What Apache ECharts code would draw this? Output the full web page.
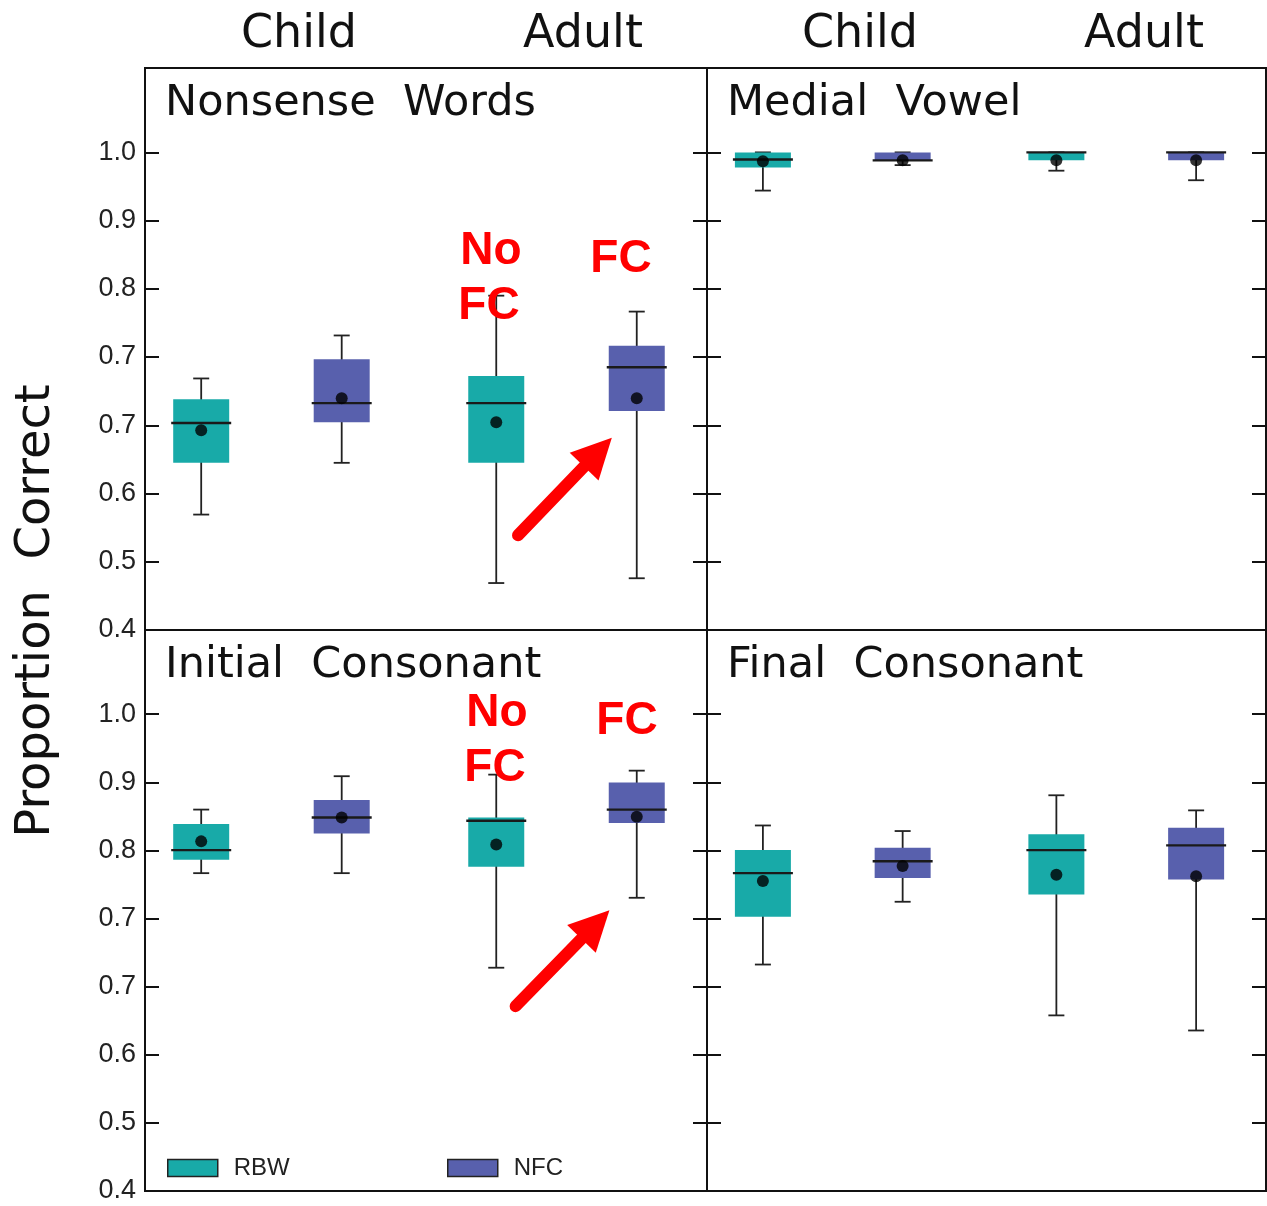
<!DOCTYPE html>
<html>
<head>
<meta charset="utf-8">
<script src="https://cdn.jsdelivr.net/npm/echarts@6/dist/echarts.min.js"></script>
<style>
html,body{margin:0;padding:0;background:#ffffff;}
#chart{width:1267px;height:1206px;}
</style>
</head>
<body>
<div id="chart"></div>
<script>
// ---------------- data ----------------
const AGE_GROUPS = ['Child', 'Adult'];
const CONDITIONS = ['RBW', 'NFC'];
const PANEL_TITLES = ['Nonsense  Words', 'Medial  Vowel', 'Initial  Consonant', 'Final  Consonant'];
const Y_TICK_VALUES = [0.4, 0.4857, 0.5714, 0.6571, 0.7429, 0.8286, 0.9143, 1.0];
const Y_TICK_LABELS = ['0.4', '0.5', '0.6', '0.7', '0.7', '0.8', '0.9', '1.0'];

// box order: Child-RBW, Child-NFC, Adult-RBW, Adult-NFC ; [min, Q1, median, Q3, max]
const NONSENSE_WORDS_BOXES = [
  [0.545, 0.610, 0.660, 0.690, 0.716],
  [0.610, 0.661, 0.685, 0.740, 0.770],
  [0.459, 0.610, 0.685, 0.719, 0.820],
  [0.465, 0.675, 0.730, 0.757, 0.800]
];
const NONSENSE_WORDS_MEANS = [0.651, 0.691, 0.661, 0.691];

const MEDIAL_VOWEL_BOXES = [
  [0.952, 0.981, 0.991, 1.000, 1.000],
  [0.984, 0.990, 0.990, 1.000, 1.000],
  [0.977, 0.990, 1.000, 1.000, 1.000],
  [0.965, 0.990, 1.000, 1.000, 1.000]
];
const MEDIAL_VOWEL_MEANS = [0.989, 0.990, 0.990, 0.990];

const INITIAL_CONSONANT_BOXES = [
  [0.800, 0.817, 0.829, 0.862, 0.880],
  [0.800, 0.850, 0.870, 0.892, 0.922],
  [0.681, 0.808, 0.866, 0.870, 0.924],
  [0.769, 0.863, 0.880, 0.914, 0.929]
];
const INITIAL_CONSONANT_MEANS = [0.840, 0.870, 0.836, 0.871];

const FINAL_CONSONANT_BOXES = [
  [0.685, 0.745, 0.800, 0.829, 0.860],
  [0.764, 0.794, 0.815, 0.832, 0.853],
  [0.621, 0.773, 0.829, 0.849, 0.898],
  [0.602, 0.792, 0.835, 0.857, 0.879]
];
const FINAL_CONSONANT_MEANS = [0.790, 0.809, 0.798, 0.796];

// ---------------- layout / style ----------------
const PANEL_BOXES = [NONSENSE_WORDS_BOXES, MEDIAL_VOWEL_BOXES, INITIAL_CONSONANT_BOXES, FINAL_CONSONANT_BOXES];
const PANEL_MEANS = [NONSENSE_WORDS_MEANS, MEDIAL_VOWEL_MEANS, INITIAL_CONSONANT_MEANS, FINAL_CONSONANT_MEANS];
const COLORS = { RBW: '#18aaa8', NFC: '#5860ad' };
const GRIDS = [
  { left: 145, top: 68, width: 562, height: 562 },
  { left: 707, top: 68, width: 559, height: 562 },
  { left: 145, top: 630, width: 562, height: 561 },
  { left: 707, top: 630, width: 559, height: 561 }
];
const TITLE_FONT = 'DejaVu Sans';
const INK = '#111111';

function xOf(g, c) { return 1 + g * 2.1 + c; }

function renderBox(params, api) {
  const x = api.value(0);
  const lo = api.coord([x, api.value(1)]);
  const q1 = api.coord([x, api.value(2)]);
  const md = api.coord([x, api.value(3)]);
  const q3 = api.coord([x, api.value(4)]);
  const hi = api.coord([x, api.value(5)]);
  const cx = lo[0], hw = 28, cw = 8;
  const st = { stroke: '#222', lineWidth: 1.8 };
  return {
    type: 'group',
    children: [
      { type: 'line', shape: { x1: cx, y1: hi[1], x2: cx, y2: lo[1] }, style: st },
      { type: 'line', shape: { x1: cx - cw, y1: hi[1], x2: cx + cw, y2: hi[1] }, style: st },
      { type: 'line', shape: { x1: cx - cw, y1: lo[1], x2: cx + cw, y2: lo[1] }, style: st },
      { type: 'rect', shape: { x: cx - hw, y: q3[1], width: 2 * hw, height: Math.max(q1[1] - q3[1], 1) },
        style: { fill: api.visual('color') } },
      { type: 'line', shape: { x1: cx - hw - 2, y1: md[1], x2: cx + hw + 2, y2: md[1] },
        style: { stroke: '#1a1a1a', lineWidth: 2.4 } }
    ]
  };
}

const grid = [], xAxis = [], yAxis = [], series = [];
GRIDS.forEach((g, p) => {
  grid.push(Object.assign({ show: true, borderColor: INK, borderWidth: 2, backgroundColor: 'transparent' }, g));
  xAxis.push({ type: 'value', gridIndex: p, min: 0.6, max: 4.6, show: false });
  ['left', 'right'].forEach((pos) => {
    yAxis.push({
      type: 'value', gridIndex: p, position: pos, min: 0.4, max: 1.106,
      axisLine: { show: false },
      splitLine: { show: false },
      axisTick: { show: true, inside: true, length: 14, customValues: Y_TICK_VALUES,
        lineStyle: { color: INK, width: 2 } },
      axisLabel: {
        show: pos === 'left' && p % 2 === 0,
        customValues: Y_TICK_VALUES,
        formatter: (v) => {
          const i = Y_TICK_VALUES.findIndex(t => Math.abs(t - v) < 1e-3);
          return i >= 0 ? Y_TICK_LABELS[i] : '';
        },
        fontFamily: 'Liberation Sans', fontSize: 27, color: '#222', margin: 9
      }
    });
  });

  CONDITIONS.forEach((cond, c) => {
    series.push({
      type: 'custom', name: cond, xAxisIndex: p, yAxisIndex: 2 * p,
      itemStyle: { color: COLORS[cond] },
      renderItem: renderBox,
      encode: { x: 0, y: [1, 2, 3, 4, 5] },
      data: AGE_GROUPS.map((_, gi) => [xOf(gi, c)].concat(PANEL_BOXES[p][gi * 2 + c])),
      z: 2, silent: true, animation: false
    });
  });

  const meanSeries = {
    type: 'scatter', name: 'mean', xAxisIndex: p, yAxisIndex: 2 * p,
    symbol: 'circle', symbolSize: 12, itemStyle: { color: '#000' },
    data: PANEL_MEANS[p].map((m, i) => [xOf(Math.floor(i / 2), i % 2), m]),
    z: 5, silent: true, animation: false
  };
  if (p === 0 || p === 2) {
    const arrow = p === 0
      ? [[3.255, 0.519], [3.824, 0.6234]]
      : [[3.238, 0.6326], [3.806, 0.7353]];
    meanSeries.markLine = {
      silent: true, animation: false,
      symbol: ['none', 'triangle'], symbolSize: [40, 40],
      lineStyle: { color: '#ff0000', width: 12, type: 'solid', cap: 'round' },
      itemStyle: { color: '#ff0000' },
      label: { show: false },
      emphasis: { disabled: true },
      data: [[{ coord: arrow[0], symbol: 'none' }, { coord: arrow[1] }]]
    };
  }
  series.push(meanSeries);
});

function txt(x, y, text, size, extra) {
  return {
    type: 'text', x: x, y: y, silent: true, z: 100,
    style: Object.assign({
      text: text, fontFamily: TITLE_FONT, fontSize: size, fill: INK,
      align: 'center', verticalAlign: 'middle'
    }, extra || {})
  };
}
function redTxt(x, y, text) {
  return txt(x, y, text, 46, { fill: '#ff0000', fontWeight: 'bold', fontFamily: 'Liberation Sans' });
}

const graphic = [
  txt(299, 35, AGE_GROUPS[0], 46),
  txt(583, 35, AGE_GROUPS[1], 46),
  txt(860, 35, AGE_GROUPS[0], 46),
  txt(1144, 35, AGE_GROUPS[1], 46),
  txt(165, 104, PANEL_TITLES[0], 43, { align: 'left' }),
  txt(727, 104, PANEL_TITLES[1], 43, { align: 'left' }),
  txt(165, 666, PANEL_TITLES[2], 43, { align: 'left' }),
  txt(727, 666, PANEL_TITLES[3], 43, { align: 'left' }),
  Object.assign(txt(37, 611, 'Proportion  Correct', 48), { rotation: Math.PI / 2 }),
  redTxt(491, 251, 'No'), redTxt(489, 306, 'FC'), redTxt(621, 259, 'FC'),
  redTxt(497, 713, 'No'), redTxt(495, 768, 'FC'), redTxt(627, 721, 'FC')
];

const legendBase = {
  orient: 'horizontal', top: 1156, padding: 0, itemWidth: 50, itemHeight: 17, icon: 'rect',
  itemStyle: { borderColor: '#222', borderWidth: 1.5 },
  textStyle: { fontFamily: 'Liberation Sans', fontSize: 24, color: '#222', padding: [0, 0, 0, 11] },
  selectedMode: false
};
const legend = [
  Object.assign({}, legendBase, { left: 167, data: [CONDITIONS[0]] }),
  Object.assign({}, legendBase, { left: 447, data: [CONDITIONS[1]] })
];

const chart = echarts.init(document.getElementById('chart'), null, { renderer: 'canvas' });
chart.setOption({
  animation: false,
  backgroundColor: '#ffffff',
  grid: grid, xAxis: xAxis, yAxis: yAxis, series: series,
  legend: legend, graphic: graphic
});
</script>
</body>
</html>
